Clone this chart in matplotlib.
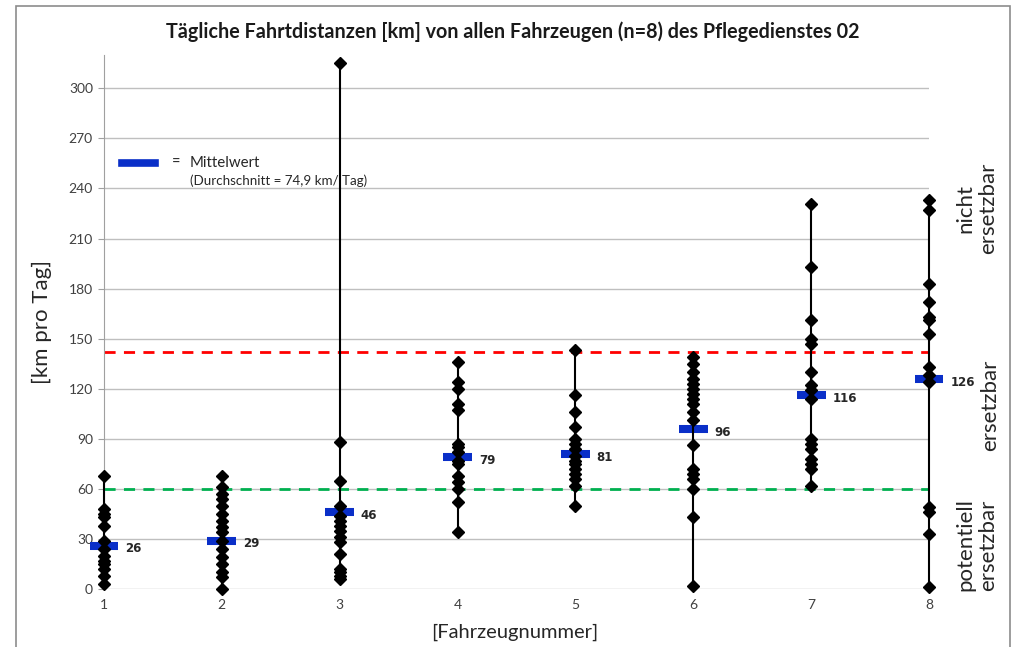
import matplotlib
matplotlib.use("Agg")
import matplotlib.pyplot as plt
from matplotlib.patches import Rectangle

plt.rcParams['font.family'] = ['Lato', 'DejaVu Sans']

# ---- data ----
vehicles = [1, 2, 3, 4, 5, 6, 7, 8]
distances = {
    1: [68, 48, 45, 43, 38, 29, 24, 20, 17, 15, 12, 8, 3],
    2: [68, 61, 57, 54, 50, 45, 41, 37, 34, 29, 24, 19, 15, 10, 7, 0],
    3: [315, 88, 65, 50, 44, 41, 38, 35, 31, 28, 21, 12, 10, 8, 6],
    4: [136, 124, 120, 111, 107, 87, 85, 82, 77, 75, 68, 64, 60, 52, 34],
    5: [143, 116, 106, 97, 90, 87, 84, 80, 77, 75, 72, 69, 66, 62, 50],
    6: [139, 135, 130, 126, 123, 120, 117, 114, 111, 106, 101, 86, 72, 69, 66, 60, 43, 2],
    7: [231, 193, 161, 150, 147, 130, 122, 119, 114, 90, 87, 84, 78, 75, 72, 62],
    8: [233, 227, 183, 172, 163, 161, 153, 133, 128, 124, 49, 46, 33, 1],
}
means = [26, 29, 46, 79, 81, 96, 116, 126]
mean_labels = ["26", "29", "46", "79", "81", "96", "116", "126"]
upper_threshold = 142
lower_threshold = 60
y_ticks = [0, 30, 60, 90, 120, 150, 180, 210, 240, 270, 300]

title = "Tägliche Fahrtdistanzen [km] von allen Fahrzeugen (n=8) des Pflegedienstes 02"

# ---- figure ----
fig = plt.figure(figsize=(10.13, 6.47), dpi=100)
W, H = 1013, 647
ax = fig.add_axes([104 / W, (H - 589) / H, (929 - 104) / W, (589 - 55) / H])

ax.set_xlim(1, 8)
ax.set_ylim(0, 320)
ax.set_yticks(y_ticks)
ax.set_xticks(vehicles)
ax.set_xticklabels([str(v) for v in vehicles])
ax.grid(axis='y', color='#bfbfbf', lw=1.0, zorder=0)
ax.grid(axis='x', visible=False)
for s in ['top', 'right', 'bottom']:
    ax.spines[s].set_visible(False)
ax.spines['left'].set_color('#a0a0a0')
ax.tick_params(axis='y', length=4, color='#a0a0a0', labelsize=10, labelcolor='#404040', pad=4)
ax.tick_params(axis='x', length=0, labelsize=10, labelcolor='#404040', pad=7)

# threshold lines
ax.plot([1, 8], [upper_threshold] * 2, color='#ff0000', lw=2, ls=(0, (4, 3)), zorder=2, clip_on=False)
ax.plot([1, 8], [lower_threshold] * 2, color='#00b050', lw=2, ls=(0, (4, 3)), zorder=2, clip_on=False)

# mean bars (below the lines)
half_w = 0.123
ax.hlines(means, [v - half_w for v in vehicles], [v + half_w for v in vehicles],
          color='#0a2fc8', lw=5.8, zorder=3, clip_on=False)
for v, m, lab in zip(vehicles, means, mean_labels):
    ax.text(v + 0.18, m - 2, lab, fontsize=8.5, fontweight='bold', color='#262626',
            va='center', ha='left', family=['DejaVu Sans'], zorder=6, clip_on=False)

# range lines and points
for v in vehicles:
    vals = distances[v]
    ax.plot([v, v], [min(vals), max(vals)], color='black', lw=1.5, zorder=4, clip_on=False)
    ax.plot([v] * len(vals), vals, ls='none', marker='D', ms=6, color='black', zorder=5, clip_on=False)

# legend
ax.plot([122 / W, 155 / W], [1 - 163 / H] * 2, transform=fig.transFigure, color='#0a2fc8', lw=5.5)
fig.text(172 / W, 1 - 163 / H, "=", fontsize=10.5, va='center', ha='left', color='#262626')
fig.text(190 / W, 1 - 163 / H, "Mittelwert", fontsize=10.8, va='center', ha='left', color='#262626')
fig.text(190 / W, 1 - 181 / H, "(Durchschnitt = 74,9 km/ Tag)", fontsize=9.6, va='center', ha='left', color='#262626')

# titles / labels
fig.text(513 / W, 1 - 32 / H, title, fontsize=14.2, fontweight='bold', ha='center', va='center', color='#1a1a1a')
fig.text(42 / W, 1 - 322 / H, "[km pro Tag]", fontsize=16, rotation=90, ha='center', va='center', color='#262626')
fig.text(515 / W, 1 - 632 / H, "[Fahrzeugnummer]", fontsize=14.5, ha='center', va='center', color='#262626')

# right side zone labels
fig.text(977 / W, 1 - 208 / H, "nicht\nersetzbar", fontsize=16, rotation=90, ha='center', va='center',
         color='#262626', multialignment='center', linespacing=1.15)
fig.text(990 / W, 1 - 405 / H, "ersetzbar", fontsize=16, rotation=90, ha='center', va='center', color='#262626')
fig.text(977 / W, 1 - 545 / H, "potentiell\nersetzbar", fontsize=16, rotation=90, ha='center', va='center',
         color='#262626', multialignment='center', linespacing=1.15)

# outer frame
fig.patches.append(Rectangle((16 / W, -0.05), (1010 - 16) / W, 1.05 - 6 / H, transform=fig.transFigure,
                             fill=False, edgecolor='#8c8c8c', lw=1.2))

fig.savefig("out.png", dpi=100)
